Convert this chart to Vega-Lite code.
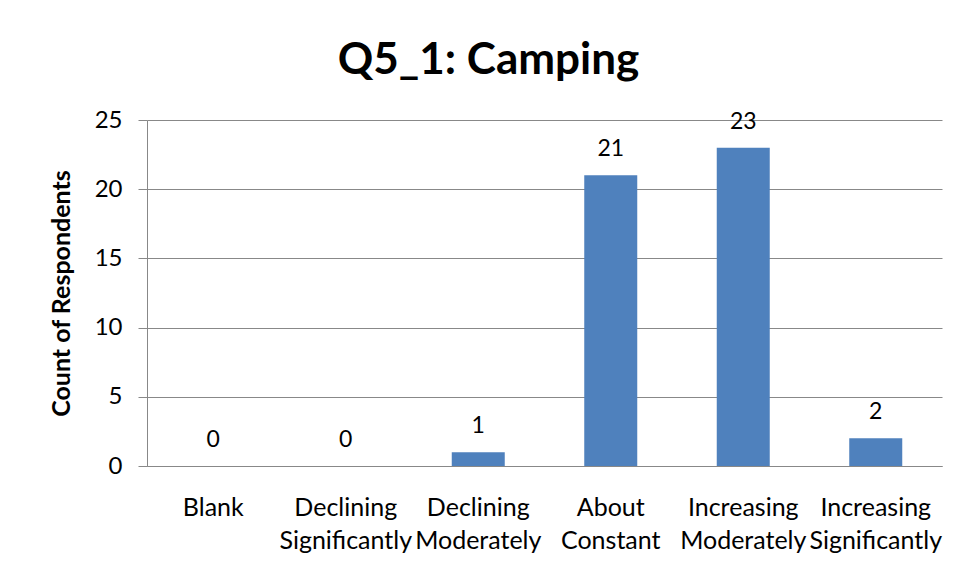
{
  "$schema": "https://vega.github.io/schema/vega-lite/v6.json",
  "autosize": "none",
  "width": 795,
  "height": 346,
  "padding": {"left": 147, "top": 120, "right": 19, "bottom": 115},
  "background": "white",
  "title": {
    "text": "Q5_1: Camping",
    "font": "Lato",
    "fontSize": 44,
    "fontWeight": "bold",
    "color": "#000000",
    "anchor": "middle",
    "dx": -56,
    "dy": 52,
    "baseline": "alphabetic",
    "offset": 42
  },
  "data": {
    "values": [
      {"category": "Blank", "count": 0},
      {"category": "Declining Significantly", "count": 0},
      {"category": "Declining Moderately", "count": 1},
      {"category": "About Constant", "count": 21},
      {"category": "Increasing Moderately", "count": 23},
      {"category": "Increasing Significantly", "count": 2}
    ]
  },
  "encoding": {
    "x": {
      "field": "category",
      "type": "nominal",
      "sort": null,
      "scale": {"paddingInner": 0.6, "paddingOuter": 0.3},
      "axis": {
        "title": null,
        "labelAngle": 0,
        "labelExpr": "split(datum.label, ' ')",
        "labelFont": "Lato",
        "labelFontSize": 25,
        "labelColor": "#000000",
        "labelLineHeight": 33,
        "labelPadding": 29,
        "labelBaseline": "top",
        "ticks": false,
        "domainColor": "#888888",
        "labelLimit": 0
      }
    },
    "y": {
      "field": "count",
      "type": "quantitative",
      "scale": {"domain": [0, 25], "nice": false},
      "axis": {
        "values": [0, 5, 10, 15, 20, 25],
        "grid": true,
        "gridColor": "#888888",
        "domainColor": "#888888",
        "tickColor": "#888888",
        "tickSize": 9,
        "labelPadding": 16,
        "labelFont": "Lato",
        "labelFontSize": 24,
        "labelColor": "#000000",
        "title": "Count of Respondents",
        "titleFont": "Lato",
        "titleFontSize": 25,
        "titleFontWeight": "bold",
        "titleColor": "#000000",
        "titlePadding": 20
      }
    }
  },
  "layer": [
    {"mark": {"type": "bar", "color": "#4F81BD"}},
    {
      "mark": {"type": "text", "font": "Lato", "fontSize": 23, "color": "#000000", "baseline": "alphabetic", "dy": -19},
      "encoding": {"text": {"field": "count", "type": "quantitative"}}
    }
  ],
  "config": {"view": {"stroke": null}}
}
